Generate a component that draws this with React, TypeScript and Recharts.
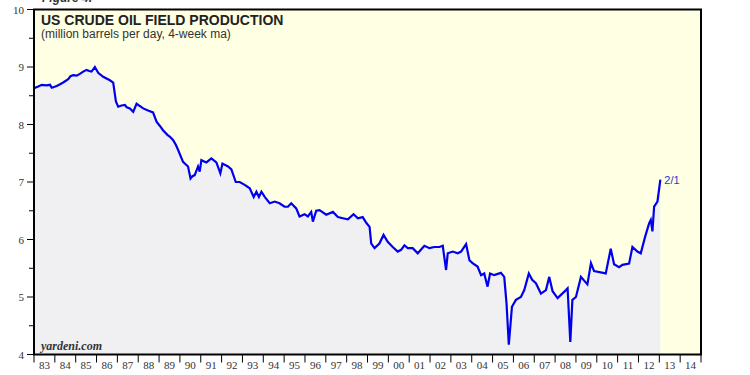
import React from "react";
import {
  ComposedChart,
  Area,
  XAxis,
  YAxis,
  CartesianGrid,
  ReferenceArea,
  ReferenceDot,
} from "recharts";

// weekly series (decimal year -> mbd, 4-wk ma)
const years = [
  1983.0, 1983.2, 1983.37, 1983.6, 1983.77, 1983.85, 1984.09, 1984.25, 1984.4, 1984.64,
  1984.75, 1984.88, 1985.05, 1985.2, 1985.36, 1985.52, 1985.65, 1985.76, 1985.92, 1986.08,
  1986.32, 1986.64, 1986.8, 1986.93, 1987.04, 1987.2, 1987.36, 1987.45, 1987.6, 1987.76,
  1987.92, 1988.24, 1988.5, 1988.71, 1988.88, 1989.05, 1989.19, 1989.4, 1989.51, 1989.67,
  1989.8, 1989.91, 1990.15, 1990.39, 1990.51, 1990.6, 1990.71, 1990.87, 1990.95, 1991.03,
  1991.27, 1991.51, 1991.75, 1991.94, 1992.04, 1992.31, 1992.47, 1992.68, 1992.87, 1993.11,
  1993.35, 1993.54, 1993.67, 1993.79, 1993.91, 1994.07, 1994.31, 1994.55, 1994.78, 1995.02,
  1995.18, 1995.34, 1995.58, 1995.74, 1995.98, 1996.14, 1996.3, 1996.38, 1996.54, 1996.7,
  1997.02, 1997.34, 1997.58, 1997.82, 1998.06, 1998.33, 1998.54, 1998.77, 1998.94, 1999.1,
  1999.18, 1999.34, 1999.57, 1999.77, 1999.97, 2000.21, 2000.45, 2000.61, 2000.77, 2000.93,
  2001.17, 2001.41, 2001.73, 2001.97, 2002.21, 2002.45, 2002.61, 2002.77, 2002.85, 2003.09,
  2003.33, 2003.49, 2003.73, 2003.89, 2004.04, 2004.28, 2004.45, 2004.6, 2004.76, 2004.88,
  2005.08, 2005.4, 2005.56, 2005.67, 2005.78, 2005.93, 2006.12, 2006.36, 2006.52, 2006.74,
  2006.9, 2007.08, 2007.32, 2007.56, 2007.72, 2007.88, 2008.12, 2008.52, 2008.6, 2008.73,
  2008.83, 2009.0, 2009.24, 2009.55, 2009.72, 2009.87, 2010.43, 2010.67, 2010.83, 2011.07,
  2011.23, 2011.55, 2011.71, 2011.95, 2012.11, 2012.32, 2012.51, 2012.59, 2012.67, 2012.75,
  2012.91, 2013.05,
];

const production = [
  8.63, 8.66, 8.69, 8.68, 8.69, 8.64, 8.67, 8.7, 8.73, 8.79,
  8.84, 8.86, 8.85, 8.88, 8.92, 8.95, 8.93, 8.92, 9.0, 8.9,
  8.83, 8.77, 8.73, 8.4, 8.31, 8.33, 8.34, 8.3, 8.28, 8.22,
  8.36, 8.28, 8.24, 8.21, 8.05, 7.97, 7.9, 7.82, 7.79, 7.73,
  7.65, 7.56, 7.35, 7.27, 7.06, 7.1, 7.12, 7.27, 7.18, 7.38,
  7.34, 7.41, 7.34, 7.15, 7.32, 7.27, 7.22, 7.0, 7.0, 6.95,
  6.89, 6.74, 6.83, 6.74, 6.83, 6.74, 6.63, 6.66, 6.63, 6.57,
  6.57, 6.63, 6.54, 6.4, 6.44, 6.4, 6.48, 6.31, 6.5, 6.51,
  6.43, 6.48, 6.39, 6.37, 6.35, 6.44, 6.37, 6.39, 6.29, 6.22,
  5.93, 5.85, 5.93, 6.08, 5.96, 5.87, 5.79, 5.82, 5.9, 5.85,
  5.85, 5.76, 5.89, 5.85, 5.87, 5.87, 5.89, 5.47, 5.76, 5.79,
  5.76, 5.79, 5.92, 5.64, 5.59, 5.53, 5.38, 5.41, 5.18, 5.41,
  5.38, 5.42, 5.35, 4.89, 4.17, 4.83, 4.95, 5.0, 5.12, 5.41,
  5.3, 5.24, 5.06, 5.12, 5.35, 5.1, 4.98, 5.12, 5.15, 4.22,
  4.95, 5.0, 5.35, 5.22, 5.59, 5.45, 5.41, 5.84, 5.57, 5.52,
  5.56, 5.58, 5.87, 5.79, 5.76, 6.05, 6.28, 6.34, 6.14, 6.57,
  6.66, 7.04,
];

const yTicks = [4, 4.5, 5, 5.5, 6, 6.5, 7, 7.5, 8, 8.5, 9, 9.5, 10];

// year boundaries get a tick mark, mid-years carry the "83".."14" label
const xTicks: number[] = [];
for (let yr = 1983; yr <= 2015; yr++) {
  xTicks.push(yr);
  if (yr < 2015) xTicks.push(yr + 0.5);
}

const lastLabel = "2/1";

const data = years.map((year, i) => ({ year, value: production[i] }));

const SERIF = '"Liberation Serif", "DejaVu Serif", serif';
const SANS = '"Liberation Sans", Arial, sans-serif';

function LeftTick(props: any) {
  const { x, y, payload } = props;
  const major = Number.isInteger(payload.value);
  return (
    <g>
      <line x1={x - (major ? 7 : 5)} x2={x} y1={y} y2={y} stroke="#000" strokeWidth={1} />
      {major && (
        <text x={x - 10} y={y + 4} textAnchor="end" fontSize={11} fontFamily={SERIF} fill="#333">
          {payload.value}
        </text>
      )}
    </g>
  );
}

function RightTick(props: any) {
  const { x, y, payload } = props;
  const major = Number.isInteger(payload.value);
  return (
    <g>
      <line x1={x} x2={x + (major ? 7 : 5)} y1={y} y2={y} stroke="#000" strokeWidth={1} />
      {major && (
        <text x={x + 10} y={y + 4} textAnchor="start" fontSize={11} fontFamily={SERIF} fill="#333">
          {payload.value}
        </text>
      )}
    </g>
  );
}

function YearTick(props: any) {
  const { x, y, payload } = props;
  const v = payload.value as number;
  if (Number.isInteger(v)) {
    return <line x1={x} x2={x} y1={y} y2={y + 8} stroke="#000" strokeWidth={1} />;
  }
  const label = String(Math.floor(v) % 100).padStart(2, "0");
  return (
    <text x={x} y={y + 14} textAnchor="middle" fontSize={11} fontFamily={SERIF} fill="#333">
      {label}
    </text>
  );
}

export default function App() {
  return (
    <div style={{ position: "absolute", left: 0, top: 0, width: 750, height: 375, background: "#fff" }}>
      <ComposedChart
        width={750}
        height={375}
        data={data}
        margin={{ top: 9.5, right: 0, bottom: 0, left: 0 }}
      >
        <CartesianGrid fill="#ffffe3" horizontal={false} vertical={false} />
        <XAxis
          dataKey="year"
          type="number"
          domain={[1983, 2015]}
          allowDataOverflow
          ticks={xTicks}
          interval={0}
          height={20.5}
          axisLine={false}
          tickLine={false}
          tickSize={0}
          tickMargin={0}
          tick={<YearTick />}
        />
        <YAxis
          yAxisId="left"
          domain={[4, 10]}
          ticks={yTicks}
          interval={0}
          width={34}
          axisLine={false}
          tickLine={false}
          tickSize={0}
          tickMargin={0}
          tick={<LeftTick />}
        />
        <YAxis
          yAxisId="right"
          orientation="right"
          domain={[4, 10]}
          ticks={yTicks}
          interval={0}
          width={49}
          axisLine={false}
          tickLine={false}
          tickSize={0}
          tickMargin={0}
          tick={<RightTick />}
        />
        <Area
          yAxisId="left"
          dataKey="value"
          type="linear"
          stroke="#0000ee"
          strokeWidth={2.2}
          fill="#f0f0f3"
          fillOpacity={1}
          dot={false}
          activeDot={false}
          isAnimationActive={false}
        />
        <ReferenceDot
          yAxisId="left"
          x={years[years.length - 1]}
          y={production[production.length - 1]}
          r={0}
          fill="none"
          stroke="none"
          label={{
            value: lastLabel,
            position: "right",
            offset: 4,
            fill: "#3333cc",
            fontSize: 11,
            fontFamily: SANS,
          }}
        />
        <ReferenceArea
          yAxisId="left"
          x1={1983}
          x2={2015}
          y1={4}
          y2={10}
          fill="none"
          fillOpacity={0}
          stroke="#000"
          strokeWidth={2}
          strokeOpacity={1}
        />
      </ComposedChart>
      <svg
        width={750}
        height={375}
        style={{ position: "absolute", left: 0, top: 0, pointerEvents: "none" }}
      >
        <text x={42} y={2} fontSize={12} fontWeight="bold" fontStyle="italic" fontFamily={SANS} fill="#333">
          Figure 4.
        </text>
        <text x={41} y={25} fontSize={14} fontWeight="bold" fontFamily={SANS} fill="#222">
          US CRUDE OIL FIELD PRODUCTION
        </text>
        <text x={41} y={37.5} fontSize={12} fontFamily={SANS} fill="#333">
          (million barrels per day, 4-week ma)
        </text>
        <text x={41} y={350} fontSize={12} fontWeight="bold" fontStyle="italic" fontFamily={SERIF} fill="#333">
          yardeni.com
        </text>
      </svg>
    </div>
  );
}
